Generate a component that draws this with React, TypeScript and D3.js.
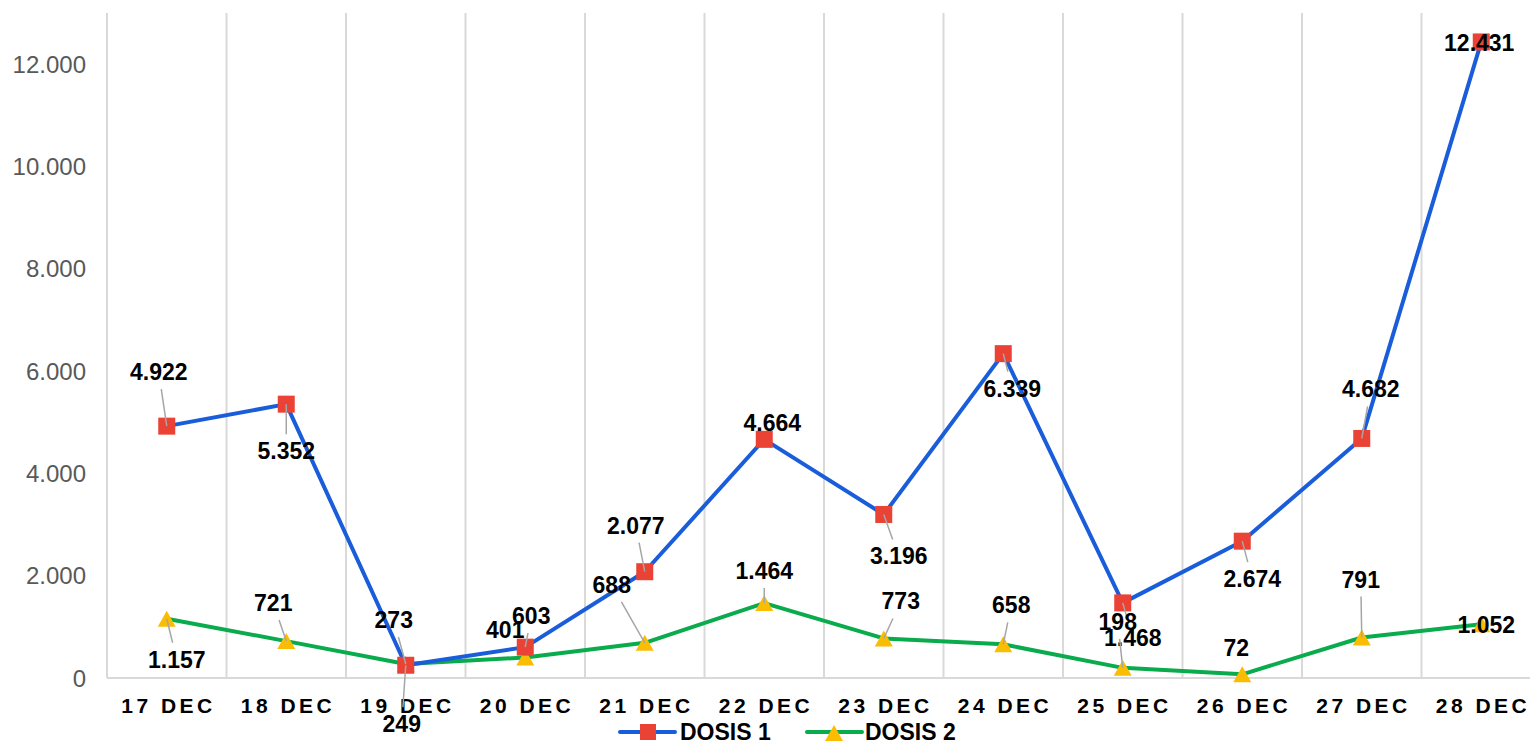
import React from "react";
import * as d3 from "d3";

const width = 1530;
const height = 742;

// chart data
const categories = ["17 DEC", "18 DEC", "19 DEC", "20 DEC", "21 DEC", "22 DEC", "23 DEC", "24 DEC", "25 DEC", "26 DEC", "27 DEC", "28 DEC"];
const dosis1 = [4922, 5352, 249, 603, 2077, 4664, 3196, 6339, 1468, 2674, 4682, 12431];
const dosis2 = [1157, 721, 273, 401, 688, 1464, 773, 658, 198, 72, 791, 1052];
const yTicks = [0, 2000, 4000, 6000, 8000, 10000, 12000];

// where each data label sits relative to its point (dx, dy)
const labelOffsets1 = [[-8, -54], [0, 47], [-4, 59], [6, -31], [-9, -46], [8, -16], [15, 42], [9, 35], [10, 35], [10, 38], [9, -49], [-2, 1]];
const labelOffsets2 = [[10, 41], [-13, -38], [-12, -44], [-20, -27], [-33, -58], [0, -32], [17, -37], [8, -39], [-5, -46], [-6, -26], [-1, -58], [5, 1]];

const margin = { top: 13, left: 107, right: 1541, bottom: 678 };
const FONT = "Arial, 'Liberation Sans', sans-serif";
const BLUE = "#1a5ddb";
const GREEN = "#0aab4c";
const RED = "#ea4335";
const YELLOW = "#fbbc04";
const LABEL_SIZE = 23;

const locale = d3.formatLocale({ decimal: ",", thousands: ".", grouping: [3], currency: ["", ""] });
const fmt = locale.format(",d");

const x = d3.scaleBand<string>().domain(categories).range([margin.left, margin.right]).padding(0);
const y = d3.scaleLinear().domain([0, 12000]).range([margin.bottom, margin.bottom - 614]);
const cx = (c: string) => (x(c) as number) + x.bandwidth() / 2;

const lineGen = d3.line<number>().x((_, i) => cx(categories[i])).y(d => y(d));

const labelWidth = (s: string) => {
  let w = 0;
  for (const ch of s) w += ch === "." ? 0.278 : 0.556;
  return w * LABEL_SIZE;
};

// leader line from edge of label box to the point
function leader(px: number, py: number, dx: number, dy: number, text: string) {
  const hw = labelWidth(text) / 2 + 3;
  const hh = 17;
  const lx = px + dx, ly = py + dy;
  const vx = -dx, vy = -dy;
  const tx = vx === 0 ? Infinity : hw / Math.abs(vx);
  const ty = vy === 0 ? Infinity : hh / Math.abs(vy);
  const t = Math.min(tx, ty);
  if (t >= 1) return null;
  const sx = lx + vx * t, sy = ly + vy * t;
  const len = Math.hypot(px - sx, py - sy);
  if (len < 14) return null;
  return { x1: sx, y1: sy, x2: px, y2: py };
}

const tri = "M0,-8L9,8L-9,8Z";

function Series({ values, color, marker }: { values: number[]; color: string; marker: "square" | "triangle" }) {
  return (
    <g>
      <path d={lineGen(values) as string} fill="none" stroke={color} strokeWidth={4} strokeLinejoin="round" />
      {values.map((v, i) => {
        const px = cx(categories[i]);
        const py = y(v);
        return marker === "square" ? (
          <rect key={i} x={px - 8.5} y={py - 8.5} width={17} height={17} fill={RED} />
        ) : (
          <path key={i} d={tri} transform={`translate(${px},${py})`} fill={YELLOW} />
        );
      })}
    </g>
  );
}

function Labels({ values, offsets }: { values: number[]; offsets: number[][] }) {
  return (
    <g>
      {values.map((v, i) => {
        const px = cx(categories[i]);
        const py = y(v);
        const [dx, dy] = offsets[i];
        const l = leader(px, py, dx, dy, fmt(v));
        return l ? (
          <line key={"l" + i} x1={l.x1} y1={l.y1} x2={l.x2} y2={l.y2} stroke="#a6a6a6" strokeWidth={1.5} />
        ) : null;
      })}
      {values.map((v, i) => {
        const px = cx(categories[i]);
        const py = y(v);
        const [dx, dy] = offsets[i];
        return (
          <text key={"t" + i} x={px + dx} y={py + dy} textAnchor="middle" dominantBaseline="central"
            fontFamily={FONT} fontWeight="bold" fontSize={LABEL_SIZE} fill="#000">
            {fmt(v)}
          </text>
        );
      })}
    </g>
  );
}

export default function App() {
  return (
    <svg width={width} height={height} style={{ position: "absolute", left: 0, top: 0, background: "#fff" }}>
      {/* vertical gridlines */}
      {categories.map(c => (
        <line key={c} x1={x(c)} x2={x(c)} y1={margin.top} y2={margin.bottom} stroke="#d9d9d9" strokeWidth={2} />
      ))}
      <line x1={margin.left} x2={width} y1={margin.bottom} y2={margin.bottom} stroke="#d9d9d9" strokeWidth={2} />

      {/* y axis labels */}
      {yTicks.map(t => (
        <text key={t} x={86} y={y(t)} textAnchor="end" dominantBaseline="central" fontFamily={FONT} fontSize={24} fill="#595959">
          {fmt(t)}
        </text>
      ))}

      {/* x axis labels */}
      {categories.map(c => (
        <text key={c} x={cx(c) + 1.75} y={705} textAnchor="middle" dominantBaseline="central" fontFamily={FONT}
          fontWeight="bold" fontSize={21} letterSpacing={3.5} fill="#000">
          {c}
        </text>
      ))}

      <Series values={dosis2} color={GREEN} marker="triangle" />
      <Series values={dosis1} color={BLUE} marker="square" />
      <Labels values={dosis1} offsets={labelOffsets1} />
      <Labels values={dosis2} offsets={labelOffsets2} />

      {/* legend */}
      <g>
        <line x1={620} x2={675} y1={732} y2={732} stroke={BLUE} strokeWidth={4} strokeLinecap="round" />
        <rect x={640} y={724} width={16} height={16} fill={RED} />
        <text x={680} y={732} dominantBaseline="central" fontFamily={FONT} fontWeight="bold" fontSize={23}>DOSIS 1</text>
        <line x1={807} x2={862} y1={732} y2={732} stroke={GREEN} strokeWidth={4} strokeLinecap="round" />
        <path d={tri} transform="translate(834,733)" fill={YELLOW} />
        <text x={865} y={732} dominantBaseline="central" fontFamily={FONT} fontWeight="bold" fontSize={23}>DOSIS 2</text>
      </g>
    </svg>
  );
}
